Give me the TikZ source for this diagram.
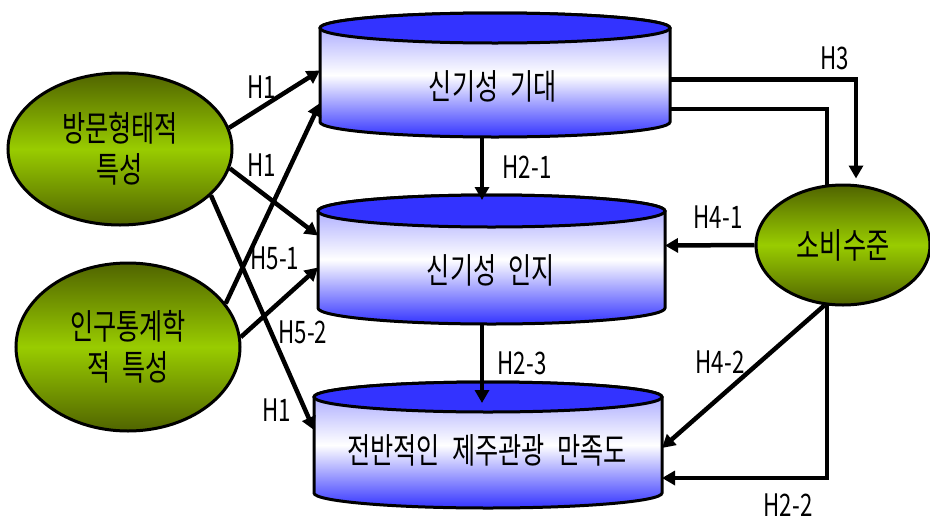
\documentclass[tikz,border=0pt]{standalone}
\usepackage{fontspec}
\setmainfont{Noto Sans CJK KR}[FakeStretch=0.72,WordSpace=2.2]
\usetikzlibrary{arrows.meta,shapes.geometric,calc}
\pgfdeclarelayer{bg}
\pgfsetlayers{bg,main}
\definecolor{cylblue}{RGB}{51,51,255}
\definecolor{cyltop}{RGB}{150,150,255}
\definecolor{olivedark}{RGB}{80,100,0}
\definecolor{olivelight}{RGB}{153,204,0}
% name, L, R, yT, yB, ry
\newcommand{\mycyl}[6]{%
  \pgfmathsetmacro\cylcx{(#2+#3)/2}%
  \pgfmathsetmacro\cylrx{(#3-#2)/2}%
  \pgfmathsetmacro\cylw{#3-#2}%
  \pgfmathsetmacro\cylh{#5-#4+2*#6}%
  \pgfmathsetmacro\cylcy{(#4+#5)/2}%
  \path[cylside] (#2,#4) -- (#2,#5) arc[start angle=180,end angle=0,x radius=\cylrx,y radius=#6]
     -- (#3,#4) arc[start angle=0,end angle=-180,x radius=\cylrx,y radius=#6] -- cycle;
  \path[cyltopst] (\cylcx,#4) ellipse[x radius=\cylrx,y radius=#6];
  \node[cylbox,minimum width=\cylw pt,minimum height=\cylh pt] (#1) at (\cylcx,\cylcy) {};
}
\begin{document}
\begin{tikzpicture}[x=1pt,y=-1pt,
  conn/.style={line width=4.5pt,-{Triangle[length=13pt,width=14pt]}},
  lbl/.style={font=\fontsize{31}{32}\selectfont,inner sep=0pt},
  oval/.style={ellipse,draw=black,line width=3pt,top color=olivedark,bottom color=olivedark,
    middle color=olivelight,align=center,font=\fontsize{35}{41}\selectfont,inner sep=0pt},
  cyltext/.style={font=\fontsize{35}{38}\selectfont,inner sep=0pt},
  cylbox/.style={rectangle,inner sep=0pt,outer sep=0pt,draw=none},
  cylside/.style={draw=black,line width=3pt,top color=cyltop,bottom color=cylblue,middle color=white},
  cyltopst/.style={draw=black,line width=3pt,fill=cylblue}
]
\useasboundingbox (0,0) rectangle (930,520);
\begin{pgfonlayer}{bg}
\fill[white] (0,0) rectangle (930,520);
\end{pgfonlayer}

% cylinders
\mycyl{c1}{320}{670}{28}{122}{15}
\mycyl{c2}{318}{665}{211}{308}{16}
\mycyl{c3}{314}{662}{397}{493}{15}
\node[cyltext] (t1) at (493,86) {신기성 기대};
\node[cyltext] (t2) at (491,270) {신기성 인지};
\node[cyltext] (t3) at (487,450) {전반적인 제주관광 만족도};

% ellipses
\node[oval,minimum width=224pt,minimum height=152pt] (e1) at (120,149) {방문형태적\\특성};
\node[oval,minimum width=224pt,minimum height=168pt] (e2) at (128,347) {인구통계학\\적 특성};
\node[oval,minimum width=174pt,minimum height=120pt] (e3) at (843,245) {소비수준};

% connectors from left
\draw[conn] (e1.11) -- ([yshift=4.5pt]c1.west);
\draw[conn] (e1.-10) -- ([yshift=24pt]c2.west);
\draw[conn] (e1.-27) -- ([yshift=15pt]c3.west);
\draw[conn] (e2.24) -- ([yshift=-28pt]c1.west);
\draw[conn] (e2.5) -- ([yshift=-8pt]c2.west);

% vertical connectors
\draw[conn,shorten >=-5pt] ([xshift=-13pt]c1.south) -- ([xshift=-13pt]c1.south |- c2.north);
\draw[conn,shorten >=-21pt] ([xshift=-13pt]c1.south |- c2.south) -- ([xshift=-13pt]c1.south |- c3.north);

% right side
\draw[conn,shorten >=5pt] ([yshift=-4.5pt]c1.east) -| ([xshift=13pt]e3.north);
\begin{pgfonlayer}{bg}
\draw[conn] ([yshift=-34pt]c1.east) -| ([xshift=-16pt]e3.south) |- ([yshift=-33pt]c3.east);
\end{pgfonlayer}
\draw[conn] (e3.west) -- ([yshift=14pt]c2.east);
\draw[conn] (e3.253) -- ([yshift=-3pt]c3.east);

% labels
\node[lbl] (l1) at (262,87) {H1};
\node[lbl] (l2) at (262,165) {H1};
\node[lbl] (l3) at (275,258) {H5-1};
\node[lbl] (l4) at (303,332) {H5-2};
\node[lbl] (l5) at (277,410) {H1};
\node[lbl] (l6) at (527,167) {H2-1};
\node[lbl] (l7) at (522,363) {H2-3};
\node[lbl] (l8) at (835,58) {H3};
\node[lbl] (l9) at (718,217) {H4-1};
\node[lbl] (l10) at (720,362) {H4-2};
\node[lbl] (l11) at (788,505) {H2-2};
\end{tikzpicture}
\end{document}
